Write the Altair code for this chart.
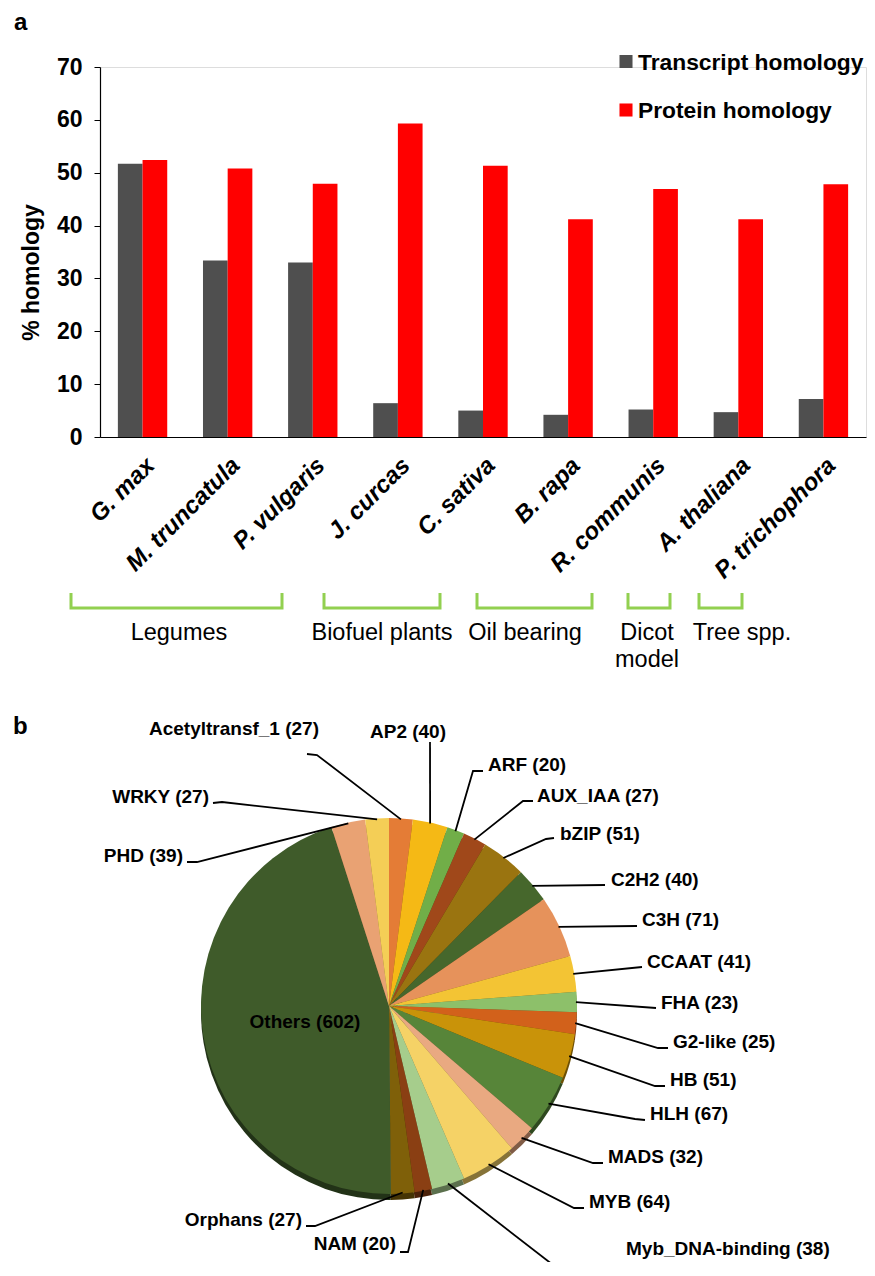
import math
import altair as alt
import pandas as pd

# ---------------- data: panel a ----------------
species = ["G. max", "M. truncatula", "P. vulgaris", "J. curcas", "C. sativa",
           "B. rapa", "R. communis", "A. thaliana", "P. trichophora"]
transcript_homology = [51.7, 33.4, 33.0, 6.4, 5.0, 4.2, 5.2, 4.7, 7.2]
protein_homology = [52.4, 50.8, 47.9, 59.3, 51.3, 41.2, 46.9, 41.2, 47.8]
series_names = ["Transcript homology", "Protein homology"]
y_tick_values = [0, 10, 20, 30, 40, 50, 60, 70]
group_names = ["Legumes", "Biofuel plants", "Oil bearing", "Dicot\nmodel", "Tree spp."]

# ---------------- data: panel b ----------------
families = ["Acetyltransf_1", "AP2", "ARF", "AUX_IAA", "bZIP", "C2H2", "C3H", "CCAAT",
            "FHA", "G2-like", "HB", "HLH", "MADS", "MYB", "Myb_DNA-binding", "NAM",
            "Orphans", "Others", "PHD", "WRKY"]
family_counts = [27, 40, 20, 27, 51, 40, 71, 41, 23, 25, 51, 67, 32, 64, 38, 20, 27, 602, 39, 27]

# ---------------- styles ----------------
FONT = "Liberation Sans"
series_colors = ["#4F4F4F", "#FF0000"]
family_colors = ["#E47C36", "#F5B915", "#71AE48", "#A0481A", "#9A7410", "#46672C",
                 "#E6925B", "#F3C434", "#8DC06A", "#D2611B", "#C99309", "#578539",
                 "#E9A981", "#F5D266", "#A6CD8C", "#8A3F13", "#7F6009", "#3F5B2A",
                 "#E9A273", "#F4CE56"]
bracket_color = "#92D050"


def darker(hex_color, f=0.55):
    h = hex_color.lstrip("#")
    r, g, b = (int(h[i:i + 2], 16) for i in (0, 2, 4))
    return "#%02X%02X%02X" % (int(r * f), int(g * f), int(b * f))


shadow_colors = [darker(c) for c in family_colors]

# ---------------- layout (page pixels) ----------------
PX0, PY0, PW, PH = 100, 67, 766, 370
PX = alt.Scale(domain=[PX0, PX0 + PW], range=[0, PW], zero=False, nice=False)
PY = alt.Scale(domain=[PY0, PY0 + PH], range=[0, PH], zero=False, nice=False)

legend_x, legend_y = [626, 626], [61.5, 110]
legend_text_x = 638

bracket_x0 = [71, 324, 477, 628, 699]
bracket_x1 = [282, 440, 592, 670, 742]
bracket_top, bracket_bot = 593, 608
group_label_x = [179, 382, 525, 647, 742]
group_label_y = 633

PIE_CX, PIE_CY, PIE_R, PIE_DEPTH = 389, 1006, 188, 6

label_layout = {
    "Acetyltransf_1": ("center", 234, 729, [(317, 755), (307, 754)]),
    "AP2": ("center", 408, 732, [(430, 742)]),
    "ARF": ("left", 488, 765, [(473, 771), (483, 771)]),
    "AUX_IAA": ("left", 537, 796, [(523, 801), (533, 801)]),
    "bZIP": ("left", 560, 834, [(546, 839), (554, 838)]),
    "C2H2": ("left", 611, 880, [(605, 885)]),
    "C3H": ("left", 642, 920, [(637, 926)]),
    "CCAAT": ("left", 647, 962, [(642, 967)]),
    "FHA": ("left", 661, 1003, [(656, 1008)]),
    "G2-like": ("left", 673, 1042, [(658, 1048), (668, 1048)]),
    "HB": ("left", 670, 1080, [(655, 1086), (665, 1086)]),
    "HLH": ("left", 650, 1114, [(635, 1119), (645, 1120)]),
    "MADS": ("left", 608, 1157, [(593, 1163), (603, 1163)]),
    "MYB": ("left", 589, 1202, [(574, 1208), (584, 1208)]),
    "Myb_DNA-binding": ("left", 626, 1249, [(575, 1282)]),
    "NAM": ("right", 396, 1244, [(408, 1252), (400, 1252)]),
    "Orphans": ("right", 302, 1220, [(315, 1226), (306, 1226)]),
    "Others": ("center", 305, 1022, []),
    "PHD": ("right", 183, 856, [(197, 862), (187, 862)]),
    "WRKY": ("right", 209, 797, [(222, 802), (213, 803)]),
}


def pxX(field):
    return alt.X(f"{field}:Q", scale=PX, axis=None)


def pxY(field):
    return alt.Y(f"{field}:Q", scale=PY, axis=None)


# ---------------- panel a: bars ----------------
bar_df = pd.DataFrame({
    "species": species * 2,
    "series": [series_names[0]] * len(species) + [series_names[1]] * len(species),
    "value": transcript_homology + protein_homology,
})

bars = alt.Chart(bar_df).mark_bar().encode(
    x=alt.X("species:N", sort=species, title=None,
            scale=alt.Scale(paddingInner=0.42, paddingOuter=0.21),
            axis=alt.Axis(labelAngle=-45, labelAlign="right", labelBaseline="top",
                          labelFont=FONT, labelFontSize=24, labelFontWeight="bold",
                          labelFontStyle="italic", labelColor="black", labelPadding=16,
                          labelOverlap=False, labelLimit=400, ticks=False, tickSize=0,
                          domainColor="black", domainWidth=1.2)),
    xOffset=alt.XOffset("series:N", sort=series_names,
                        scale=alt.Scale(paddingInner=0, paddingOuter=0)),
    y=alt.Y("value:Q", scale=alt.Scale(domain=[0, 70], nice=False),
            axis=alt.Axis(values=y_tick_values, grid=False, title="% homology",
                          titleFont=FONT, titleFontSize=23, titleFontWeight="bold",
                          titleColor="black", titleX=-57, titleY=205,
                          labelFont=FONT, labelFontSize=23, labelFontWeight="bold",
                          labelColor="black", labelPadding=12, tickSize=6,
                          tickColor="black", domainColor="black", domainWidth=1.2)),
    color=alt.Color("series:N", scale=alt.Scale(domain=series_names, range=series_colors),
                    legend=None),
)

# manual legend
leg_df = pd.DataFrame({"series": series_names, "lx": legend_x, "ly": legend_y,
                       "tx": [legend_text_x] * 2})
leg_sq = alt.Chart(leg_df).mark_square(size=170, opacity=1).encode(
    x=pxX("lx"), y=pxY("ly"),
    color=alt.Color("series:N", scale=alt.Scale(domain=series_names, range=series_colors),
                    legend=None))
leg_tx = alt.Chart(leg_df).mark_text(align="left", baseline="middle", font=FONT,
                                      fontSize=22.8, fontWeight="bold", color="black",
                                      dy=1).encode(
    x=pxX("tx"), y=pxY("ly"), text="series:N")

# group brackets
br_rows = []
for g, a, b in zip(group_names, bracket_x0, bracket_x1):
    for s, (xx, yy) in enumerate([(a, bracket_top), (a, bracket_bot),
                                  (b, bracket_bot), (b, bracket_top)]):
        br_rows.append({"group": g, "seq": s, "bx": xx, "by": yy})
br_df = pd.DataFrame(br_rows)
brackets = alt.Chart(br_df).mark_line(color=bracket_color, strokeWidth=3,
                                      strokeJoin="miter").encode(
    x=pxX("bx"), y=pxY("by"), detail="group:N", order="seq:Q")

grp_df = pd.DataFrame({"group": group_names, "gx": group_label_x,
                       "gy": [group_label_y] * len(group_names)})
grp_text = alt.Chart(grp_df).mark_text(align="center", baseline="middle", font=FONT,
                                        fontSize=23.5, color="black", lineBreak="\n",
                                        lineHeight=27).encode(
    x=pxX("gx"), y=pxY("gy"), text="group:N")

# panel letters
letters_df = pd.DataFrame({"t": ["a", "b"], "lx": [14, 13], "ly": [30, 734]})
letters = alt.Chart(letters_df).mark_text(align="left", baseline="alphabetic", font=FONT,
                                           fontSize=24, fontWeight="bold",
                                           color="black").encode(
    x=pxX("lx"), y=pxY("ly"), text="t:N")

# ---------------- panel b: pie ----------------
pie_df = pd.DataFrame({"family": families, "count": family_counts,
                       "idx": list(range(len(families)))})

shadow = alt.Chart(pie_df).mark_arc(radius=PIE_R).encode(
    theta=alt.Theta("count:Q", stack=True),
    order=alt.Order("idx:Q"),
    color=alt.Color("family:N", scale=alt.Scale(domain=families, range=shadow_colors),
                    legend=None),
    x=alt.X(datum=PIE_CX, scale=PX, axis=None),
    y=alt.Y(datum=PIE_CY + PIE_DEPTH, scale=PY, axis=None),
)
pie = alt.Chart(pie_df).mark_arc(radius=PIE_R).encode(
    theta=alt.Theta("count:Q", stack=True),
    order=alt.Order("idx:Q"),
    color=alt.Color("family:N", scale=alt.Scale(domain=families, range=family_colors),
                    legend=None),
    x=alt.X(datum=PIE_CX, scale=PX, axis=None),
    y=alt.Y(datum=PIE_CY, scale=PY, axis=None),
)

# labels and leader lines
total = sum(family_counts)
cum = 0
lbl_rows, lead_rows = [], []
for fam, cnt in zip(families, family_counts):
    mid = (cum + cnt / 2) / total * 2 * math.pi
    cum += cnt
    align, tx, ty, elbows = label_layout[fam]
    lbl_rows.append({"label": f"{fam} ({cnt})", "align": align, "tx": tx, "ty": ty})
    if elbows:
        ex = PIE_CX + (PIE_R - 1) * math.sin(mid)
        ey = PIE_CY - (PIE_R - 1) * math.cos(mid)
        pts = [(ex, ey)] + elbows
        for s, (xx, yy) in enumerate(pts):
            lead_rows.append({"label": fam, "seq": s, "lx": xx, "ly": yy})
lbl_df = pd.DataFrame(lbl_rows)
lead_df = pd.DataFrame(lead_rows)

leaders = alt.Chart(lead_df).mark_line(color="black", strokeWidth=1.8).encode(
    x=pxX("lx"), y=pxY("ly"), detail="label:N", order="seq:Q")


def label_layer(align):
    return alt.Chart(lbl_df).transform_filter(alt.datum.align == align).mark_text(
        align=align, baseline="middle", font=FONT, fontSize=19, fontWeight="bold",
        color="black").encode(x=pxX("tx"), y=pxY("ty"), text="label:N")


chart = alt.layer(
    bars, leg_sq, leg_tx, brackets, grp_text, letters,
    shadow, pie, leaders,
    label_layer("left"), label_layer("right"), label_layer("center"),
).resolve_scale(
    x="independent", y="independent", color="independent", theta="independent"
).properties(
    width=PW, height=PH,
    padding={"left": PX0 - 8, "top": PY0 - 8, "right": 1, "bottom": 1262 - (PY0 + PH)},
    autosize=alt.AutoSizeParams(type="none"),
).configure_view(stroke=None).configure(font=FONT)

chart.save("out.html", embed_options={"renderer": "svg", "actions": False})
